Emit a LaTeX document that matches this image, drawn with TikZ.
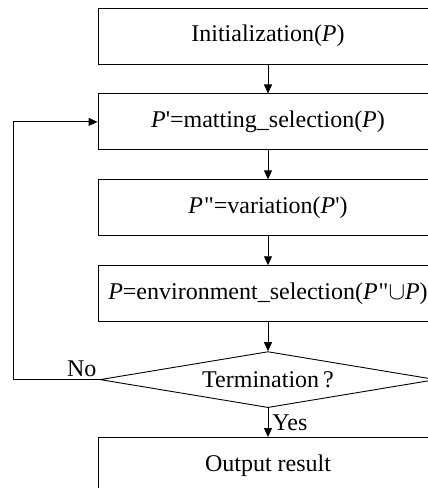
\documentclass[tikz,border=0pt]{standalone}
\usepackage{fontspec}
\setmainfont{Liberation Serif}
\usetikzlibrary{positioning,shapes.geometric,arrows.meta}

\tikzset{
  stepbox/.style={draw, line width=0.9pt, minimum width=340pt, minimum height=56pt, inner sep=0pt},
  decide/.style={draw, diamond, line width=0.9pt, minimum width=336pt, minimum height=56pt, inner sep=0pt, aspect=6},
  flow/.style={-{Triangle[length=9pt,width=8pt]}, line width=0.9pt}
}
\newcommand{\sq}{\textquotesingle}
\newcommand{\dq}{\kern1pt\textquotedbl}

\begin{document}
\begin{tikzpicture}[x=1pt, y=-1pt, node distance=29pt, font=\fontsize{24}{28}\selectfont]
  % page frame (right side cut off as in the figure)
  \clip (0,0) rectangle (428,488);

  % main chain of steps
  \node[stepbox] (init) at (268,36) {Initialization(\textit{P})};
  \node[stepbox, below=of init] (mating) {\textit{P}\sq=matting\_selection(\textit{P})};
  \node[stepbox, below=of mating] (vari) {\textit{P}\dq=variation(\textit{P}\sq)};
  \node[stepbox, below=of vari] (envsel) {\textit{P}=environment\_selection(\textit{P}\dq$\cup$\textit{P})};
  \node[decide, below=of envsel] (term) {Termination\,?};
  \node[stepbox, below=of term] (output) {Output result};

  % arrows
  \draw[flow] (init) -- (mating);
  \draw[flow] (mating) -- (vari);
  \draw[flow] (vari) -- (envsel);
  \draw[flow] (envsel) -- (term);
  \draw[flow] (term) -- node[right, inner sep=4pt] (yes) {Yes} (output);

  % loop back
  \coordinate (back) at (13,0);
  \draw[flow] (term.west) -- (back |- term.west) -- (back |- mating.west) -- (mating.west);
  \node[above left, inner sep=3pt] (no) at (term.west) {No};
\end{tikzpicture}
\end{document}
